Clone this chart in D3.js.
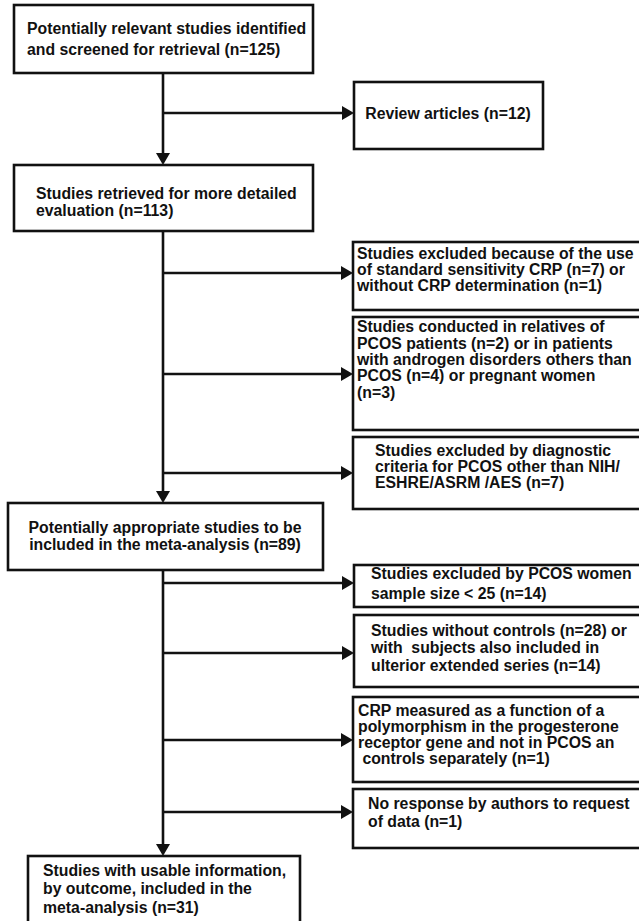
<!DOCTYPE html>
<html>
<head>
<meta charset="utf-8">
<script src="https://cdn.jsdelivr.net/npm/d3@7"></script>
<style>
  html, body { margin: 0; padding: 0; background: #fff; }
  svg { display: block; }
  text { font-family: "Liberation Sans", Arial, sans-serif; font-weight: bold; fill: #111; }
</style>
</head>
<body>
<script>
// ---- content (flow stages and exclusion reasons) ----
const mainStages = [
  ["Potentially relevant studies identified", "and screened for retrieval (n=125)"],
  ["Studies retrieved for more detailed", "evaluation (n=113)"],
  ["Potentially appropriate studies to be", "included in the meta-analysis (n=89)"],
  ["Studies with usable information,", "by outcome, included in the", "meta-analysis (n=31)"]
];
const mainCounts = [125, 113, 89, 31];

const exclusions = [
  ["Review articles (n=12)"],
  ["Studies excluded because of the use", "of standard sensitivity CRP (n=7) or", "without CRP determination (n=1)"],
  ["Studies conducted in relatives of", "PCOS patients (n=2) or in patients", "with androgen disorders others than", "PCOS (n=4) or pregnant women", "(n=3)"],
  ["Studies excluded by diagnostic", "criteria for PCOS other than NIH/", "ESHRE/ASRM /AES (n=7)"],
  ["Studies excluded by PCOS women", "sample size < 25 (n=14)"],
  ["Studies without controls (n=28) or", "with  subjects also included in", "ulterior extended series (n=14)"],
  ["CRP measured as a function of a", "polymorphism in the progesterone", "receptor gene and not in PCOS an", " controls separately (n=1)"],
  ["No response by authors to request", "of data (n=1)"]
];
const exclusionCounts = [12, 8, 9, 7, 14, 42, 1, 1];
// which main stage each exclusion branches from
const exclusionFrom = [0, 1, 1, 1, 2, 2, 2, 2];

// ---- layout (positions / sizes) ----
const W = 639, H = 921;
const spineX = 163;
const mainLayout = [
  {x: 14, y: 5,   w: 299, h: 68, tx: 27, ty: [28, 49], anchor: "start"},
  {x: 14, y: 165, w: 299, h: 66, tx: 36, ty: [193, 210], anchor: "start"},
  {x: 8,  y: 503, w: 315, h: 67, tx: 165, ty: [527, 544], anchor: "middle"},
  {x: 28, y: 856, w: 272, h: 80, tx: 43, ty: [870, 888, 907], anchor: "start"}
];
const exLayout = [
  {x: 354, y: 82,  w: 189, h: 67,  tx: 448, ty: [113], anchor: "middle", ay: 113},
  {x: 353, y: 242, w: 300, h: 68,  tx: 357, ty: [253, 269, 285], anchor: "start", ay: 273},
  {x: 353, y: 317, w: 300, h: 113, tx: 357, ty: [326, 343, 359, 375, 392], anchor: "start", ay: 374},
  {x: 353, y: 437, w: 300, h: 72,  tx: 375, ty: [450, 466, 482], anchor: "start", ay: 473},
  {x: 354, y: 565, w: 300, h: 42,  tx: 371, ty: [573, 593], anchor: "start", ay: 583},
  {x: 354, y: 615, w: 300, h: 72,  tx: 371, ty: [630, 647, 665], anchor: "start", ay: 653},
  {x: 353, y: 697, w: 300, h: 85,  tx: 358, ty: [710, 726, 742, 758], anchor: "start", ay: 740},
  {x: 353, y: 789, w: 300, h: 59,  tx: 368, ty: [803, 821], anchor: "start", ay: 812}
];

const fontSize = 15.8;
const strokeW = 2.6;
const ink = "#111";

const svg = d3.select("body").append("svg")
  .attr("width", W).attr("height", H)
  .attr("viewBox", `0 0 ${W} ${H}`);

const gLines = svg.append("g");
const gBoxes = svg.append("g");

function drawBox(text, lay) {
  const g = gBoxes.append("g");
  g.append("rect")
    .attr("x", lay.x).attr("y", lay.y)
    .attr("width", lay.w).attr("height", lay.h)
    .attr("fill", "#fff").attr("stroke", ink).attr("stroke-width", strokeW);
  g.selectAll("text").data(text).join("text")
    .attr("x", lay.tx)
    .attr("y", (d, i) => lay.ty[i] + fontSize * 0.36)
    .attr("text-anchor", lay.anchor)
    .attr("font-size", fontSize)
    .attr("xml:space", "preserve")
    .style("white-space", "pre")
    .text(d => d);
}

mainStages.forEach((t, i) => drawBox(t, mainLayout[i]));
exclusions.forEach((t, i) => drawBox(t, exLayout[i]));

// arrowheads
const aLen = 12, aHalf = 7;
function arrowDown(x, y) {
  gLines.append("path")
    .attr("d", `M${x - aHalf},${y - aLen} L${x + aHalf},${y - aLen} L${x},${y} Z`)
    .attr("fill", ink);
}
function arrowRight(x, y) {
  gLines.append("path")
    .attr("d", `M${x - aLen},${y - aHalf} L${x - aLen},${y + aHalf} L${x},${y} Z`)
    .attr("fill", ink);
}
function line(x1, y1, x2, y2) {
  gLines.append("line")
    .attr("x1", x1).attr("y1", y1).attr("x2", x2).attr("y2", y2)
    .attr("stroke", ink).attr("stroke-width", strokeW);
}

// spine between main stages
for (let i = 0; i < mainLayout.length - 1; i++) {
  const a = mainLayout[i], b = mainLayout[i + 1];
  line(spineX, a.y + a.h, spineX, b.y - aLen + 2);
  arrowDown(spineX, b.y);
}
// branches to exclusion boxes
exLayout.forEach((lay, i) => {
  line(spineX, lay.ay, lay.x - aLen + 2, lay.ay);
  arrowRight(lay.x, lay.ay);
});
</script>
</body>
</html>
